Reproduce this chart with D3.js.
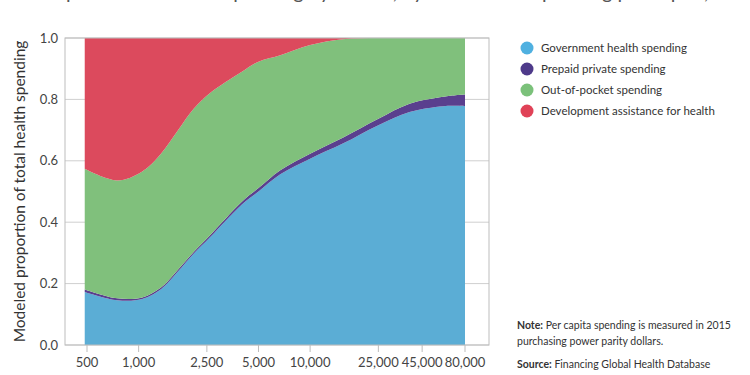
<!DOCTYPE html>
<html lang="en">
<head>
<meta charset="UTF-8">
<title>Health spending composition</title>
<script src="https://cdn.jsdelivr.net/npm/d3@7"></script>
<style>
    body { margin: 0; background: #fff; }
    svg { display: block; font-family: Lato, "Open Sans", sans-serif; }
    .grid line { stroke: #cfcfcf; }
    .tick-label { fill: #444; font-size: 13px; }
    .legend text { fill: #333; font-size: 11.5px; }
    .note { fill: #333; font-size: 10.5px; }
</style>
</head>
<body>
<div id="chart"></div>
<script>
// spending per capita (2015 PPP dollars)
var income  = [485, 750, 1050, 1350, 1700, 2100, 2600, 4000, 5000, 6700, 10000, 15500, 25000, 38000, 60000, 80000];
var gov     = [0.173, 0.146, 0.150, 0.182, 0.240, 0.298, 0.350, 0.458, 0.500, 0.556, 0.607, 0.656, 0.716, 0.759, 0.778, 0.778];
var prepaid = [0.008, 0.006, 0.005, 0.005, 0.006, 0.006, 0.007, 0.009, 0.011, 0.013, 0.016, 0.019, 0.021, 0.027, 0.031, 0.038];
var oop     = [0.393, 0.384, 0.410, 0.436, 0.454, 0.466, 0.463, 0.423, 0.412, 0.375, 0.354, 0.321, 0.263, 0.214, 0.191, 0.184];
var dah     = [0.426, 0.464, 0.435, 0.377, 0.300, 0.230, 0.180, 0.110, 0.077, 0.056, 0.023, 0.004, 0.000, 0.000, 0.000, 0.000];

var xTicks  = [500, 1000, 2500, 5000, 10000, 25000, 45000, 80000];
var yTicks  = [0, 0.2, 0.4, 0.6, 0.8, 1.0];

var seriesNames  = ["Government health spending", "Prepaid private spending", "Out-of-pocket spending", "Development assistance for health"];
var seriesKeys   = ["gov", "prepaid", "oop", "dah"];
var areaColors   = ["#5badd5", "#5a3f8e", "#80c07c", "#dc4a5d"];
var legendColors = ["#4fb0e0", "#4e3a8a", "#7bc17a", "#e04257"];

var W = 750, H = 375;
var plot = { left: 65, right: 489, top: 38, bottom: 345 };

var svg = d3.select("#chart").append("svg")
    .attr("width", W)
    .attr("height", H);

var x = d3.scaleLog().domain([500, 80000]).range([87, 465]);
var y = d3.scaleLinear().domain([0, 1]).range([plot.bottom, plot.top]);

// cropped title at the very top
svg.append("text")
    .attr("x", 25).attr("y", -1)
    .attr("font-size", 20).attr("fill", "#555")
    .text("Composition of health spending by source, by total health spending per capita, 2015");

// gridlines
svg.append("g").attr("class", "grid")
    .selectAll("line").data(yTicks).join("line")
    .attr("x1", plot.left).attr("x2", plot.right)
    .attr("y1", function(d) { return y(d); })
    .attr("y2", function(d) { return y(d); });

// stacked areas
var rows = income.map(function(v, i) {
    return { income: v, gov: gov[i], prepaid: prepaid[i], oop: oop[i], dah: dah[i] };
});
var stacked = d3.stack().keys(seriesKeys)(rows);

svg.append("clipPath").attr("id", "plot-clip")
  .append("rect")
    .attr("x", plot.left).attr("y", plot.top)
    .attr("width", plot.right - plot.left).attr("height", plot.bottom - plot.top);

var area = d3.area()
    .x(function(d) { return x(d.data.income); })
    .y0(function(d) { return y(d[0]); })
    .y1(function(d) { return y(d[1]); })
    .curve(d3.curveCatmullRom.alpha(0.5));

svg.append("g").attr("clip-path", "url(#plot-clip)")
    .selectAll("path").data(stacked).join("path")
    .attr("d", area)
    .attr("fill", function(d, i) { return areaColors[i]; });

// frame
svg.append("rect")
    .attr("x", plot.left).attr("y", plot.top)
    .attr("width", plot.right - plot.left).attr("height", plot.bottom - plot.top)
    .attr("fill", "none").attr("stroke", "#bdbdbd");

// y tick labels
svg.append("g").selectAll("text").data(yTicks).join("text")
    .attr("class", "tick-label")
    .attr("x", 58)
    .attr("y", function(d) { return y(d) + 4.5; })
    .attr("text-anchor", "end")
    .text(function(d) { return d.toFixed(1); });

// x ticks
svg.append("g").selectAll("line").data(xTicks).join("line")
    .attr("x1", function(d) { return x(d); }).attr("x2", function(d) { return x(d); })
    .attr("y1", plot.bottom).attr("y2", plot.bottom + 7)
    .attr("stroke", "#bdbdbd");

svg.append("g").selectAll("text").data(xTicks).join("text")
    .attr("class", "tick-label")
    .attr("x", function(d) { return x(d); })
    .attr("y", 367)
    .attr("text-anchor", "middle")
    .text(function(d) { return d3.format(",")(d); });

// axis titles
svg.append("text")
    .attr("transform", "translate(25," + ((plot.top + plot.bottom) / 2) + ") rotate(-90)")
    .attr("text-anchor", "middle")
    .attr("font-size", 15.5).attr("fill", "#333")
    .text("Modeled proportion of total health spending");

svg.append("text")
    .attr("x", 277).attr("y", 387)
    .attr("text-anchor", "middle")
    .attr("font-size", 15).attr("fill", "#333")
    .text("Total health spending per capita (2015 purchasing power parity dollars)");

// legend
var legend = svg.append("g").attr("class", "legend")
    .selectAll("g").data(seriesNames).join("g")
    .attr("transform", function(d, i) { return "translate(527," + (48 + i * 21) + ")"; });

legend.append("circle")
    .attr("r", 6.5)
    .attr("fill", function(d, i) { return legendColors[i]; });

legend.append("text")
    .attr("x", 14).attr("y", 4)
    .text(function(d) { return d; });

// note & source
var note = svg.append("text").attr("class", "note").attr("x", 517).attr("y", 329);
note.append("tspan").attr("font-weight", "bold").text("Note:");
note.append("tspan").text(" Per capita spending is measured in 2015");
svg.append("text").attr("class", "note").attr("x", 517).attr("y", 345)
    .text("purchasing power parity dollars.");
var src = svg.append("text").attr("class", "note").attr("x", 517).attr("y", 368);
src.append("tspan").attr("font-weight", "bold").text("Source:");
src.append("tspan").text(" Financing Global Health Database");
</script>
</body>
</html>
